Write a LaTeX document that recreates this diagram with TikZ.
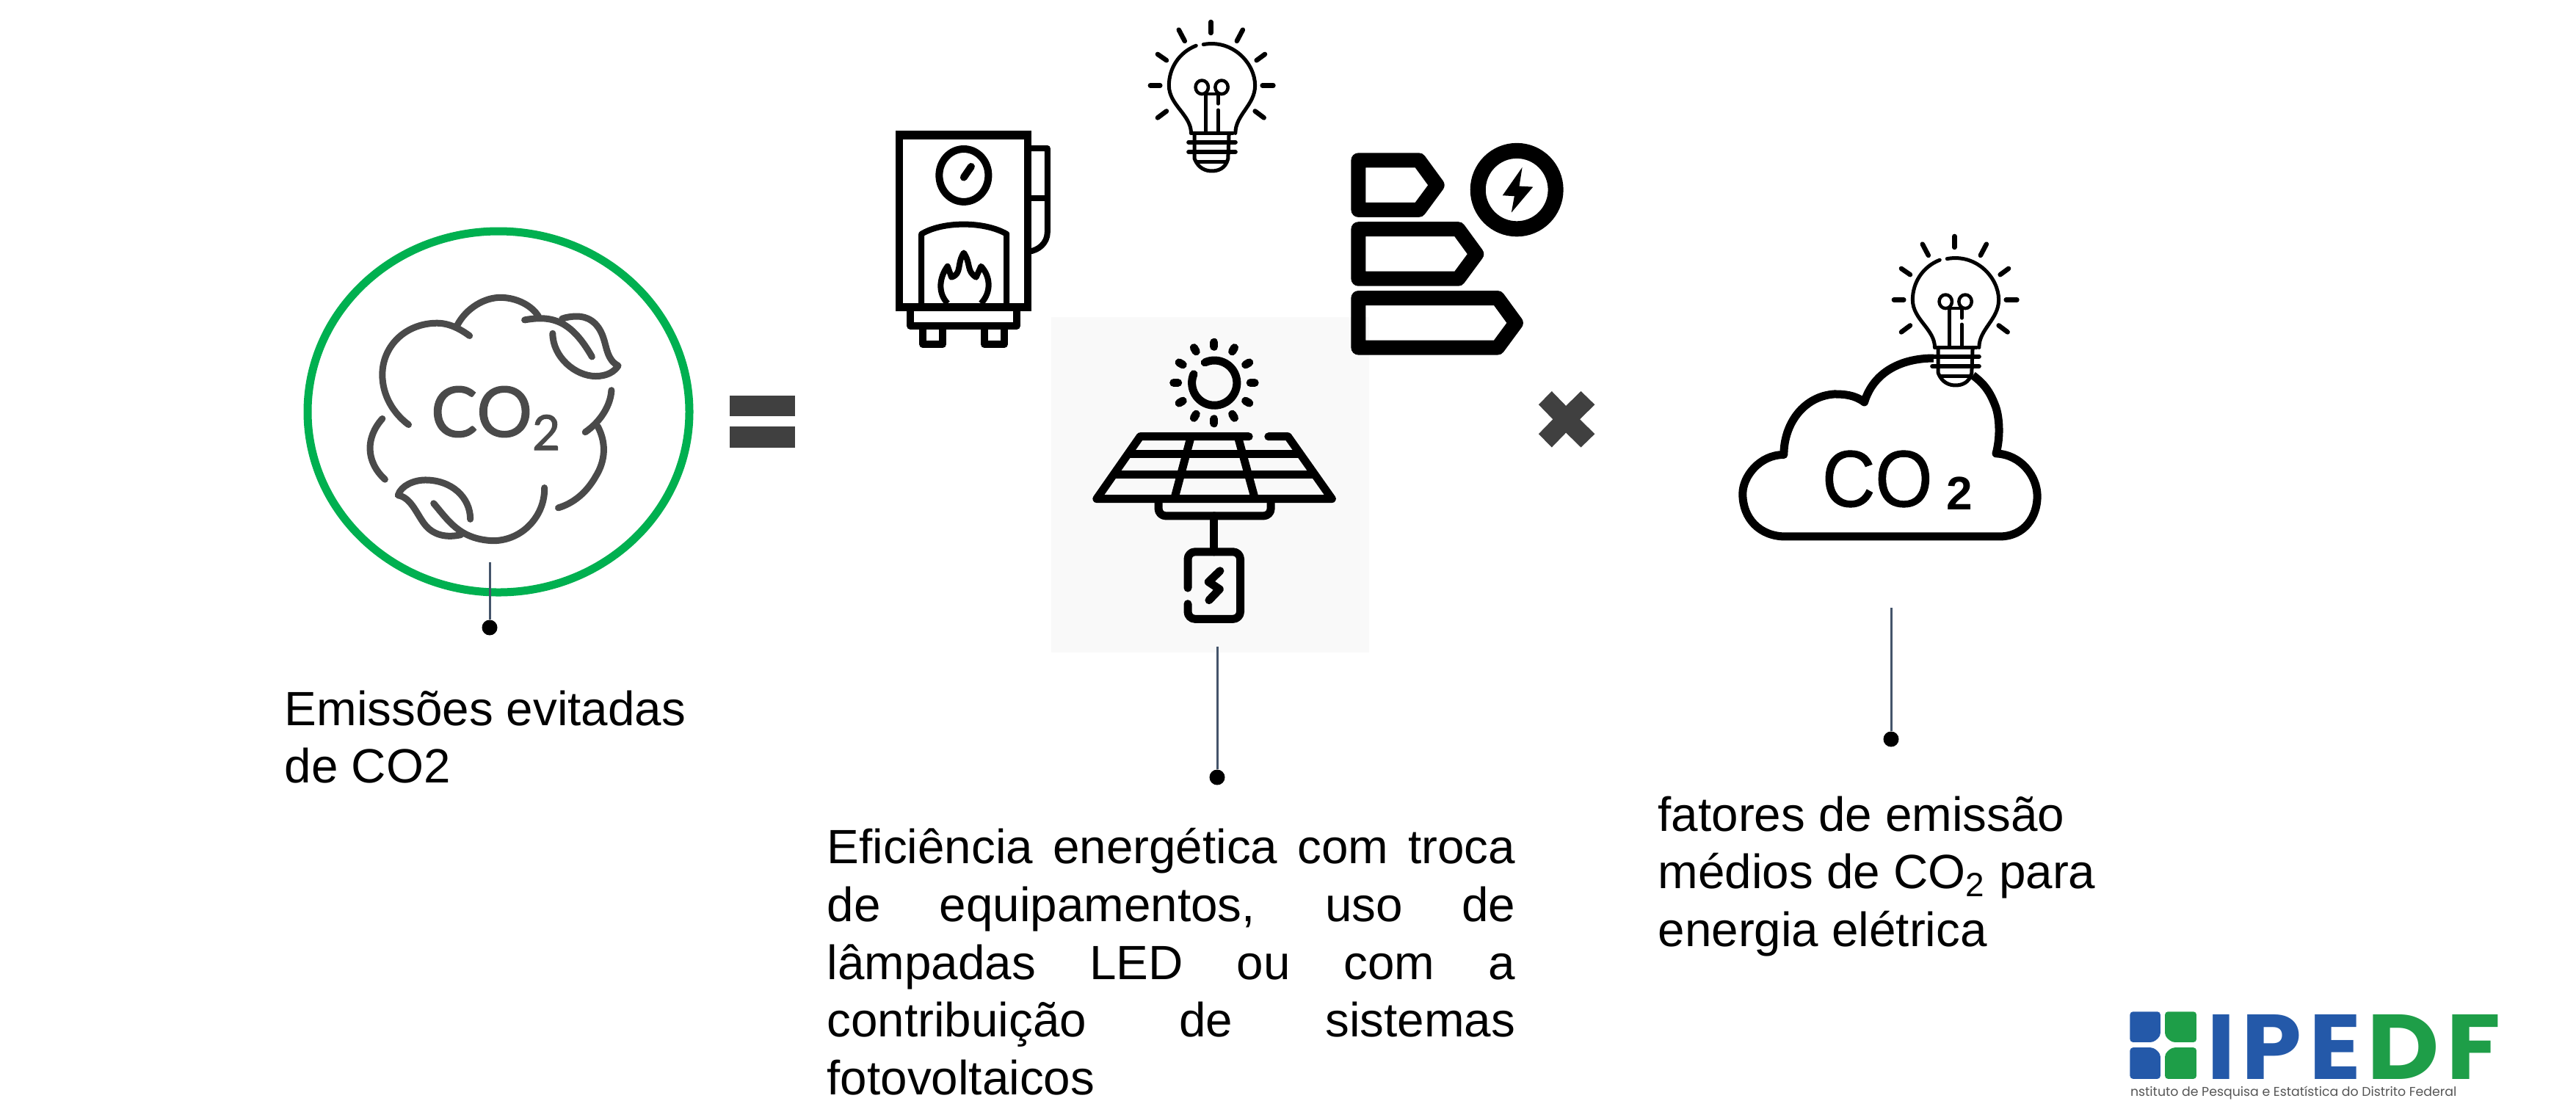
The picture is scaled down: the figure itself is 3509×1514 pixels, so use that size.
\documentclass[tikz,border=0pt]{standalone}
\usepackage{fontspec}
\setmainfont{Liberation Sans}
\newfontfamily\latofont{Lato}[FakeBold=1.5]
\newfontfamily\heavysans{Liberation Sans}[FakeBold=1]
\newfontfamily\logofont{Poppins}[LetterSpace=7]
\newfontfamily\logosubfont{Poppins}
\definecolor{ringgreen}{HTML}{00B050}
\definecolor{icongray}{HTML}{4A4A4A}
\definecolor{opgray}{HTML}{404040}
\definecolor{leadgray}{HTML}{44546A}
\definecolor{panelbg}{HTML}{F9F9F9}
\definecolor{logoblue}{HTML}{2459A9}
\definecolor{logogreen}{HTML}{1E9E48}
\definecolor{logotext}{HTML}{555555}
\tikzset{
  leader/.style={draw=leadgray,line width=0.03cm},
  leaddot/.style={circle,fill=black,draw=none,inner sep=0pt,minimum size=0.21cm},
  bodytext/.style={inner sep=0pt,font=\fontsize{18.64}{22.33}\selectfont,text=black},
  cloudline/.style={draw=icongray,line width=0.09cm,line cap=round,line join=round},
  solarline/.style={draw=black,line width=0.11cm,line cap=round,line join=round},
  bulbline/.style={draw=black,line width=0.05cm,line cap=round,line join=round},
  bulbray/.style={draw=black,line width=0.065cm,line cap=round},
  boilerline/.style={draw=black,line width=0.1cm,line join=round},
  tagline/.style={draw=black,line width=0.2cm,line join=round},
  plain/.style={inner sep=0pt,outer sep=0pt}
}
\newcommand{\drawbulb}[2]{%
  \begin{scope}[shift={(#1,#2)},x=0.0067cm,y=-0.00333cm]
    \fill[white] (705,545) rectangle (790,640);
    \draw[bulbline] (730,182) .. controls (790,160) and (835,260) .. (835,350) .. controls (835,430) and (795,470) .. (795,545);
    \draw[bulbline] (715,187) .. controls (680,215) and (660,280) .. (660,350) .. controls (660,430) and (705,470) .. (705,545);
    \draw[bulbline] (705,545) -- (790,545);
    \draw[bulbline,line width=0.06cm] (700,582) -- (795,582);
    \draw[bulbline,line width=0.06cm] (700,622) -- (795,622);
    \draw[bulbline] (712,545) -- (712,650) .. controls (720,690) and (735,700) .. (747,700) .. controls (760,700) and (775,690) .. (780,650) -- (782,545);
    \draw[bulbline] (718,662) -- (776,662);
    \draw[bulbline,line width=0.045cm] (727,357) ellipse [x radius=13,y radius=28];
    \draw[bulbline,line width=0.045cm] (767,357) ellipse [x radius=13,y radius=28];
    \draw[bulbline,line width=0.045cm] (727,385) -- (767,385);
    \draw[bulbline,line width=0.045cm] (735,385) -- (735,540);
    \draw[bulbline,line width=0.045cm] (760,385) -- (760,425);
    \draw[bulbline,line width=0.045cm] (760,450) -- (760,540);
    \draw[bulbray] (745,90) -- (745,135);
    \draw[bulbray] (680,122) -- (692,168);
    \draw[bulbray] (810,122) -- (798,168);
    \draw[bulbray] (637,222) -- (655,247);
    \draw[bulbray] (855,222) -- (838,247);
    \draw[bulbray] (622,350) -- (642,350);
    \draw[bulbray] (850,350) -- (872,350);
    \draw[bulbray] (637,482) -- (655,455);
    \draw[bulbray] (853,482) -- (835,455);
  \end{scope}%
}
\begin{document}
\begin{tikzpicture}[x=0.01cm,y=-0.01cm]
\useasboundingbox (0,0) rectangle (3509,1514);

% panel behind solar icon
\fill[panelbg] (1432,432) rectangle (1865,889);

% green ring
\draw[ringgreen,line width=0.11cm] (679,561) ellipse [x radius=260,y radius=246];

% equal sign
\fill[opgray] (994,539) rectangle (1083,567);
\fill[opgray] (994,581) rectangle (1083,610);

% cloud with leaves
\begin{scope}[shift={(350,270)},x=0.0051cm,y=-0.00408cm]
  \draw[cloudline] (568,460) .. controls (530,425) and (500,415) .. (470,418) .. controls (390,425) and (335,500) .. (335,590) .. controls (335,660) and (365,720) .. (405,757);
  \draw[cloudline] (535,425) .. controls (560,365) and (610,332) .. (650,332) .. controls (695,332) and (735,360) .. (752,395);
  \draw[cloudline] (715,407) .. controls (790,390) and (840,410) .. (895,530);
  \draw[cloudline] (790,452) .. controls (790,530) and (850,595) .. (905,595) .. controls (935,595) and (955,580) .. (965,560) .. controls (935,540) and (935,500) .. (925,465) .. controls (910,410) and (880,395) .. (855,395) .. controls (840,395) and (825,398) .. (815,403);
  \draw[cloudline] (947,642) .. controls (945,690) and (920,745) .. (877,782);
  \draw[cloudline] (910,762) .. controls (935,820) and (930,880) .. (905,930) .. controls (880,985) and (845,1020) .. (805,1035);
  \draw[cloudline] (335,737) .. controls (290,800) and (290,880) .. (342,940);
  \draw[cloudline] (570,1073) .. controls (570,1000) and (520,942) .. (450,942) .. controls (420,942) and (385,960) .. (377,993) .. controls (410,1000) and (425,1050) .. (445,1085) .. controls (470,1130) and (510,1135) .. (545,1125);
  \draw[cloudline] (472,1020) .. controls (510,1075) and (540,1140) .. (630,1145) .. controls (710,1145) and (770,1060) .. (768,968);
\end{scope}
\node[plain,anchor=base west,text=icongray,font=\latofont\fontsize{27}{27}\selectfont] (co2left) at (587,595) {CO};
\node[plain,anchor=base west,text=icongray,font=\latofont\fontsize{18.8}{18.8}\selectfont] (co2leftsub) at (725,613) {2};

% top bulb
\drawbulb{1150}{0}

% boiler
\begin{scope}[shift={(1150,0)},x=0.0067cm,y=-0.00333cm]
  \draw[boilerline] (112,552) rectangle (373,1258);
  \draw[boilerline,line width=0.12cm] (105,552) -- (380,552);
  \draw[boilerline,line width=0.11cm] (105,1257) -- (380,1257);
  \draw[boilerline] (135,1265) -- (135,1335) -- (350,1335) -- (350,1265);
  \draw[boilerline] (160,1340) -- (160,1410) -- (200,1410) -- (200,1340);
  \draw[boilerline] (285,1340) -- (285,1410) -- (325,1410) -- (325,1340);
  \draw[boilerline,line width=0.08cm] (375,607) -- (413,607) -- (413,950) .. controls (413,995) and (395,1025) .. (375,1030);
  \draw[boilerline,line width=0.08cm] (375,812) -- (413,812);
  \draw[boilerline] (243,718) ellipse [x radius=50,y radius=108];
  \draw[boilerline,line cap=round] (258,682) -- (243,726);
  \draw[boilerline,line width=0.08cm] (157,1245) -- (157,958) .. controls (200,905) and (285,905) .. (330,958) -- (330,1245);
  \draw[boilerline,line width=0.08cm] (210,1242) .. controls (188,1195) and (195,1130) .. (210,1090) -- (218,1135) .. controls (240,1120) and (228,1080) .. (243,1035) .. controls (258,1080) and (248,1110) .. (268,1135) -- (278,1090) .. controls (297,1130) and (300,1195) .. (278,1242);
\end{scope}

% energy labels
\begin{scope}[shift={(1150,0)},x=0.0067cm,y=-0.00333cm]
  \draw[tagline] (1045,656) -- (1168,656) -- (1205,758) -- (1168,859) -- (1045,859) -- cycle;
  \draw[tagline] (1045,938) -- (1248,938) -- (1285,1040) -- (1248,1141) -- (1045,1141) -- cycle;
  \draw[tagline] (1045,1220) -- (1328,1220) -- (1365,1322) -- (1328,1423) -- (1045,1423) -- cycle;
  \draw[draw=black,line width=0.21cm] (1367,777) ellipse [x radius=79,y radius=160];
  \fill[black] (1378,685) -- (1338,800) -- (1362,803) -- (1356,870) -- (1400,765) -- (1372,762) -- cycle;
\end{scope}

% solar panel
\begin{scope}[shift={(1400,420)},x=0.00333cm,y=-0.00333cm]
  \draw[solarline] (725,222) arc [start angle=245,end angle=563,radius=92];
  \foreach \a in {0,30,...,330} {
    \draw[solarline] ([shift={(\a:148)}]763,305) -- ([shift={(\a:166)}]763,305);
  }
  \draw[solarline] (905,525) -- (460,525) -- (282,780) -- (1245,780) -- (1065,525) -- (985,525);
  \draw[solarline] (415,597) -- (1110,597);
  \draw[solarline] (360,682) -- (1165,682);
  \draw[solarline] (668,525) -- (600,780);
  \draw[solarline] (860,525) -- (930,780);
  \draw[solarline,rounded corners=0.1cm] (535,780) -- (535,850) -- (995,850) -- (995,780);
  \draw[solarline] (763,850) -- (763,997);
  \draw[solarline,rounded corners=0.1cm] (655,1145) -- (655,997) -- (870,997) -- (870,1272) -- (655,1272) -- (655,1210);
  \draw[solarline] (787,1075) -- (740,1120) -- (785,1150) -- (742,1195);
\end{scope}

% times sign and CO2 cloud
\begin{scope}[shift={(2050,300)},x=0.0051cm,y=-0.00333cm]
  \fill[opgray] (125,700) -- (163,760) -- (203,700) -- (240,755) -- (200,815) -- (240,875) -- (203,930) -- (163,870) -- (125,930) -- (90,875) -- (128,815) -- (90,755) -- cycle;
  \draw[draw=black,line width=0.11cm,line join=round] (1145,565) .. controls (1060,565) and (985,620) .. (960,745) .. controls (935,715) and (905,712) .. (880,712) .. controls (800,720) and (745,830) .. (745,960) .. controls (680,960) and (635,1050) .. (635,1120) .. controls (635,1220) and (680,1295) .. (750,1295) -- (1320,1295) .. controls (1390,1295) and (1422,1210) .. (1422,1130) .. controls (1422,1050) and (1380,960) .. (1312,955) .. controls (1325,880) and (1320,800) .. (1310,760) .. controls (1295,700) and (1280,670) .. (1250,635);
\end{scope}
\node[plain,anchor=base west,xscale=0.92,font=\heavysans\fontsize{31}{31}\selectfont] (co2right) at (2482,690) {CO};
\node[plain,anchor=base west,font=\bfseries\fontsize{18.2}{18.2}\selectfont] (co2rightsub) at (2651,694) {2};
\drawbulb{2163}{292}

% leaders
\coordinate (lead1top) at (667,766);
\node[leaddot] (lead1dot) at (667,855) {};
\draw[leader] (lead1top) -- (lead1dot);
\coordinate (lead2top) at (1658,881);
\node[leaddot] (lead2dot) at (1658,1059) {};
\draw[leader] (lead2top) -- (lead2dot);
\coordinate (lead3top) at (2576,828);
\node[leaddot] (lead3dot) at (2576,1007) {};
\draw[leader] (lead3top) -- (lead3dot);

% texts
\node[bodytext,anchor=north west,align=left] (textleft) at (387,940) {Emissões evitadas\\de CO2};
\node[bodytext,anchor=north west,text width=9.37cm,align=justify] (textmid) at (1126,1128) {Eficiência energética com troca\linebreak de equipamentos, uso de\linebreak lâmpadas LED ou com a\linebreak contribuição de sistemas\linebreak fotovoltaicos};
\node[bodytext,anchor=north west,align=left] (textright) at (2258,1084) {fatores de emissão\\médios de CO\textsubscript{2} para\\energia elétrica};

% logo
\begin{scope}[shift={(2880,1350)},x=0.0037cm,y=-0.00333cm]
  \fill[logoblue,rounded corners=0.04cm] (58,85) -- (170,85) -- (170,185) -- (145,210) -- (58,210) -- cycle;
  \fill[logogreen,rounded corners=0.04cm] (187,85) -- (303,85) -- (303,210) -- (212,210) -- (187,185) -- cycle;
  \fill[logoblue,rounded corners=0.04cm] (58,232) -- (145,232) -- (170,257) -- (170,360) -- (58,360) -- cycle;
  \fill[logogreen,rounded corners=0.04cm] (212,232) -- (303,232) -- (303,360) -- (187,360) -- (187,257) -- cycle;
\end{scope}
\node[plain,anchor=south west,text=logoblue] (logoipe) at (3006,1470) {\resizebox{2.1cm}{0.88cm}{\logofont\bfseries IPE}};
\node[plain,anchor=south west,text=logogreen] (logodf) at (3224,1470) {\resizebox{1.82cm}{0.88cm}{\logofont\bfseries DF}};
\node[plain,anchor=base west,text=logotext] (logosub) at (2902,1493) {\resizebox{4.44cm}{!}{\logosubfont nstituto de Pesquisa e Estatística do Distrito Federal}};
\end{tikzpicture}
\end{document}
